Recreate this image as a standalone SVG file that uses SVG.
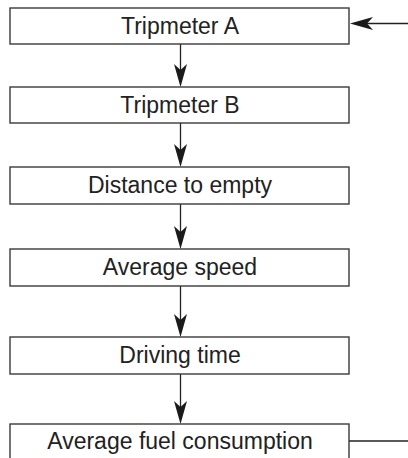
<svg xmlns="http://www.w3.org/2000/svg" width="408" height="458" viewBox="0 0 408 458">
<style>
.box{fill:#fff;stroke:#3a3a3a;stroke-width:1.4}
.lbl{font-family:"Liberation Sans",Arial,sans-serif;font-size:23px;fill:#222;text-anchor:middle}
.ln{stroke:#222;stroke-width:1.3;fill:none}
.ah{fill:#1a1a1a}
</style>
<defs>
<path id="ahd" class="ah" d="M0,0 L-6.5,-23 L0,-17 L6.5,-23 Z"/>
<path id="ahl" class="ah" d="M0,0 L23,-6.5 L17,0 L23,6.5 Z"/>
</defs>
<rect width="408" height="458" fill="#fff"/>
<g id="connectors">
<line class="ln" x1="180.5" y1="44" x2="180.5" y2="70"/>
<use href="#ahd" x="180.5" y="87"/>
<line class="ln" x1="180.5" y1="123" x2="180.5" y2="150"/>
<use href="#ahd" x="180.5" y="167"/>
<line class="ln" x1="180.5" y1="204" x2="180.5" y2="232"/>
<use href="#ahd" x="180.5" y="249"/>
<line class="ln" x1="180.5" y1="286" x2="180.5" y2="320"/>
<use href="#ahd" x="180.5" y="337"/>
<line class="ln" x1="180.5" y1="374" x2="180.5" y2="407"/>
<use href="#ahd" x="180.5" y="424"/>
<line class="ln" x1="366" y1="23.5" x2="408" y2="23.5"/>
<use href="#ahl" x="350" y="23.5"/>
<line class="ln" x1="349" y1="441" x2="408" y2="441"/>
</g>
<g id="n1"><rect class="box" x="10" y="8" width="339" height="36"/><text class="lbl" x="180" y="33.5">Tripmeter A</text></g>
<g id="n2"><rect class="box" x="10" y="87" width="339" height="36"/><text class="lbl" x="180" y="112.5">Tripmeter B</text></g>
<g id="n3"><rect class="box" x="10" y="167" width="339" height="37"/><text class="lbl" x="180" y="193">Distance to empty</text></g>
<g id="n4"><rect class="box" x="10" y="249" width="339" height="37"/><text class="lbl" x="180" y="275">Average speed</text></g>
<g id="n5"><rect class="box" x="10" y="337" width="339" height="37"/><text class="lbl" x="180" y="363">Driving time</text></g>
<g id="n6"><rect class="box" x="10" y="424" width="339" height="36"/><text class="lbl" x="180" y="448.5">Average fuel consumption</text></g>
</svg>
